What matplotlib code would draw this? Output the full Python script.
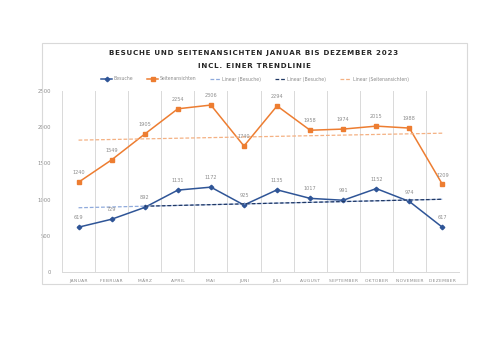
import numpy as np
import matplotlib.pyplot as plt

monate = ["JANUAR", "FEBRUAR", "MÄRZ", "APRIL", "MAI", "JUNI", "JULI",
          "AUGUST", "SEPTEMBER", "OKTOBER", "NOVEMBER", "DEZEMBER"]
besuche = [619, 729, 892, 1131, 1172, 925, 1135, 1017, 991, 1152, 974, 617]
seiten = [1240, 1549, 1905, 2254, 2306, 1740, 2294, 1958, 1974, 2015, 1988, 1209]

BLAU = "#2F5597"
ORANGE = "#ED7D31"
GRAU = "#8C8C8C"


def sperren(s, sp="\u200a"):
    # Buchstaben etwas auseinanderziehen
    return sp.join(s)


fig = plt.figure(figsize=(5, 3.53), dpi=100)
W, H = 500, 353

# Rahmen des Diagrammbereichs
frame = plt.Rectangle((42 / W, 1 - 284 / H), (467 - 42) / W, (284 - 43) / H,
                      transform=fig.transFigure, fill=False, ec="#D9D9D9", lw=0.8)
fig.add_artist(frame)

ax = fig.add_axes([62 / W, 1 - 272 / H, (459 - 62) / W, (272 - 91) / H])
x = np.arange(len(monate))

# Trendlinien
tb = np.polyval(np.polyfit(x, besuche, 1), x)
ts = np.polyval(np.polyfit(x, seiten, 1), x)

l1, = ax.plot(x, besuche, color=BLAU, lw=1.1, marker="D", ms=2.3, label="Besuche")
l2, = ax.plot(x, seiten, color=ORANGE, lw=1.1, marker="s", ms=3.3, label="Seitenansichten")
l3, = ax.plot(x, tb, color="#8FAADC", lw=0.9, ls=(0, (3, 1.5)), label="Linear (Besuche)")
l4, = ax.plot(x, tb, color="#203864", lw=0.9, ls=(0, (3, 1.5)), label="Linear (Besuche)")
l5, = ax.plot(x, ts, color="#F4B183", lw=0.9, ls=(0, (3, 1.5)), label="Linear (Seitenansichten)")
l4.set_data(x[2:], tb[2:])

for xi, v in zip(x, besuche):
    ax.annotate(str(v), (xi, v), xytext=(0, 5), textcoords="offset points",
                ha="center", va="bottom", fontsize=3.6, color=GRAU)
for xi, v in zip(x, seiten):
    ax.annotate(str(v), (xi, v), xytext=(0, 5), textcoords="offset points",
                ha="center", va="bottom", fontsize=3.6, color=GRAU)

ax.set_xlim(-0.5, 11.5)
ax.set_ylim(0, 2500)
ax.set_yticks(range(0, 2501, 500))
ax.set_xticks(x)
ax.set_xticklabels([sperren(m) for m in monate])
ax.set_xticks(np.arange(-0.5, 12, 1), minor=True)
ax.grid(True, which="minor", axis="x", color="#D9D9D9", lw=0.7)
ax.tick_params(which="both", length=0)
ax.tick_params(axis="x", labelsize=3.2, colors=GRAU, pad=5)
ax.tick_params(axis="y", labelsize=3.8, colors=GRAU, pad=8)
for s in ["top", "right", "left"]:
    ax.spines[s].set_visible(False)
ax.spines["bottom"].set_color("#D9D9D9")
ax.spines["bottom"].set_linewidth(0.7)

titel1 = "BESUCHE UND SEITENANSICHTEN JANUAR BIS DEZEMBER 2023"
titel2 = "INCL. EINER TRENDLINIE"
fig.text(254 / W, 1 - 53 / H, sperren(titel1), ha="center", va="center",
         fontsize=5.1, fontweight="bold", color="#262626")
fig.text(254 / W, 1 - 66 / H, sperren(titel2), ha="center", va="center",
         fontsize=5.1, fontweight="bold", color="#262626")

fig.legend(handles=[l1, l2, l3, l4, l5], loc="center", bbox_to_anchor=(255 / W, 1 - 79 / H),
           ncol=5, frameon=False, fontsize=3.3, labelcolor=GRAU, handlelength=2.4,
           columnspacing=3.0, handletextpad=0.3)

fig.savefig("out.png", dpi=100)
